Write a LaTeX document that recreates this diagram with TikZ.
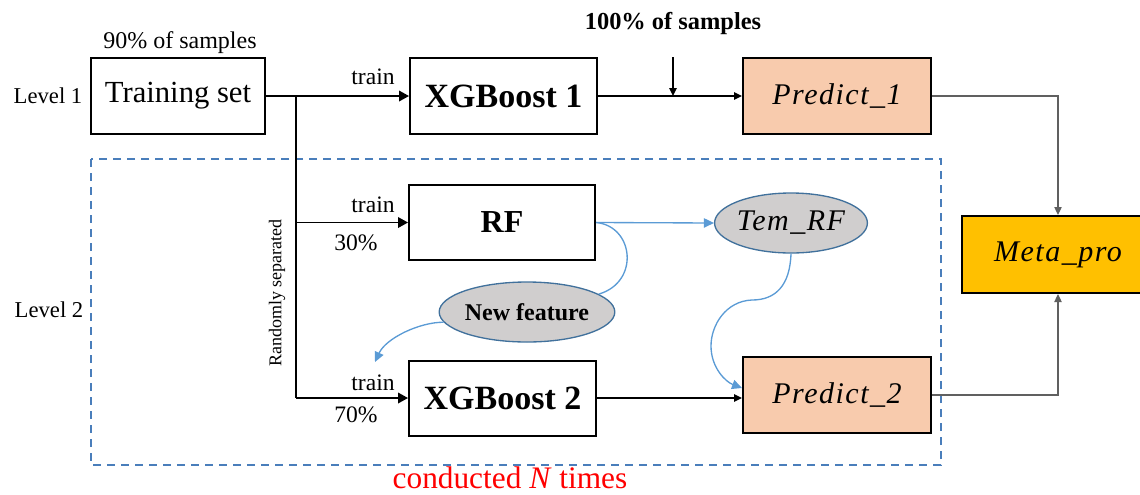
\documentclass[tikz,border=0pt]{standalone}
\usepackage{fontspec}
\setmainfont{Liberation Serif}
\newfontfamily\varfont[LetterSpace=5]{Liberation Serif}
\usetikzlibrary{arrows.meta,calc,shapes.geometric}
\definecolor{peach}{HTML}{F8CBAD}
\definecolor{gold}{HTML}{FFC000}
\definecolor{ellfill}{HTML}{D0CECE}
\definecolor{ellline}{HTML}{41719C}
\definecolor{flowblue}{HTML}{5B9BD5}
\definecolor{dashblue}{HTML}{4A7EBB}
\definecolor{linkgray}{HTML}{606060}
\newcommand{\fs}[1]{\fontsize{#1}{#1}\selectfont}
\newcommand{\var}[1]{{\varfont\itshape #1}}
\begin{document}
\begin{tikzpicture}[x=0.75pt,y=-0.75pt,
  box/.style={draw=black,line width=1.5pt,inner sep=0pt,minimum height=57pt},
  oval/.style={ellipse,draw=ellline,fill=ellfill,line width=1pt,inner sep=0pt,
    minimum width=114pt,minimum height=45pt},
  lbl/.style={inner sep=0pt},
  blk/.style={line width=1.1pt,-{Triangle[length=7.5pt,width=8pt]}},
  thin/.style={line width=1.1pt,-{Triangle[length=6pt,width=5.5pt]}},
  gry/.style={draw=linkgray,line width=0.9pt,-{Triangle[length=6pt,width=5.5pt]}},
  blu/.style={draw=flowblue,line width=1pt},
  bluarr/.style={blu,-{Triangle[length=7.5pt,width=7pt]},flowblue}]
\useasboundingbox (0,0) rectangle (1140,494);
\clip (0,0) rectangle (1140,494);

% repeated-run frame of level 2
\draw[dashblue,line width=1.4pt,dash pattern=on 6pt off 4.5pt] (91,159) rectangle (941,465);

% boxes
\node[box,minimum width=130.5pt] (train) at (178,96) {\fs{23}Training set};
\node[box,minimum width=140.25pt] (xgb1) at (503.5,96) {\fs{25.5}\bfseries XGBoost 1};
\node[box,fill=peach,minimum width=141pt] (pred1) at (837,96) {\fs{22.5}\var{Predict\_1}};
\node[box,fill=gold,minimum width=144pt,minimum height=57.75pt] (meta) at (1058,254.5) {\fs{22.5}\var{Meta\_pro}};
\node[box,minimum width=139.5pt,minimum height=56.25pt] (rf) at (502,222.5) {\fs{24}\bfseries RF};
\node[box,minimum width=140.25pt,minimum height=56.25pt] (xgb2) at (502.5,398) {\fs{25.5}\bfseries XGBoost 2};
\node[box,fill=peach,minimum width=141pt] (pred2) at (837,395) {\fs{22.5}\var{Predict\_2}};
\node[oval] (temrf) at (791,223) {\fs{22.5}\var{Tem\_RF}};
\node[oval] (newf) at (527,312) {\fs{18}\bfseries New feature};

% plain labels
\node[lbl] (lv1) at (48,96) {\fs{17}Level 1};
\node[lbl] (lv2) at (49,310) {\fs{17}Level 2};
\node[lbl] (p90) at (180,43) {\fs{18}90\% of samples};
\node[lbl] (p100) at (673,24) {\fs{18.3}\bfseries 100\% of samples};
\node[lbl,rotate=90] (rand) at (277,293) {\fs{13.5}Randomly separated};
\node[lbl,text=red] (ntimes) at (510,478) {\fs{23.5}conducted \textit{N} times};
\node[lbl] (tr1) at (373,77) {\fs{17.7}train};
\node[lbl] (tr2) at (373,205) {\fs{17.7}train};
\node[lbl] (tr3) at (373,383) {\fs{17.7}train};
\node[lbl] (pc30) at (356,243) {\fs{17.7}30\%};
\node[lbl] (pc70) at (356,415) {\fs{17.7}70\%};

% level 1 flow
\coordinate (split) at (296,96);
\coordinate (feed) at (673,57);
\coordinate (drop) at (375,362);
\draw[blk] (train.east) -- (xgb1.west);
\draw[thin] (xgb1.east) -- (pred1.west);
\draw[thin] (feed) -- (feed |- xgb1.east);
\draw[gry] (pred1.east) -| (meta.north);
\draw[gry] (pred2.east) -| (meta.south);

% random split into the two level-2 learners
\draw[line width=1.1pt] (split) -- (split |- xgb2.west);
\draw[blk] (split |- rf.west) -- (rf.west);
\draw[blk] (split |- xgb2.west) -- (xgb2.west);
\draw[thin] (xgb2.east) -- (xgb2.east -| pred2.west);

% blue feature flows
\draw[bluarr] (rf.east) -- (temrf.west);
\draw[blu] (rf.east) .. controls (634,226) and (640,282) .. (newf.14);
\draw[bluarr] (newf.187) .. controls (420,322) and (386,338) .. (drop);
\draw[bluarr] (temrf.south) .. controls (790,285) and (776,300) .. (752,300)
  .. controls (726,301) and (711,325) .. (711,346)
  .. controls (711,368) and (726,382) .. ($(pred2.west)+(0,-7)$);
\end{tikzpicture}
\end{document}
